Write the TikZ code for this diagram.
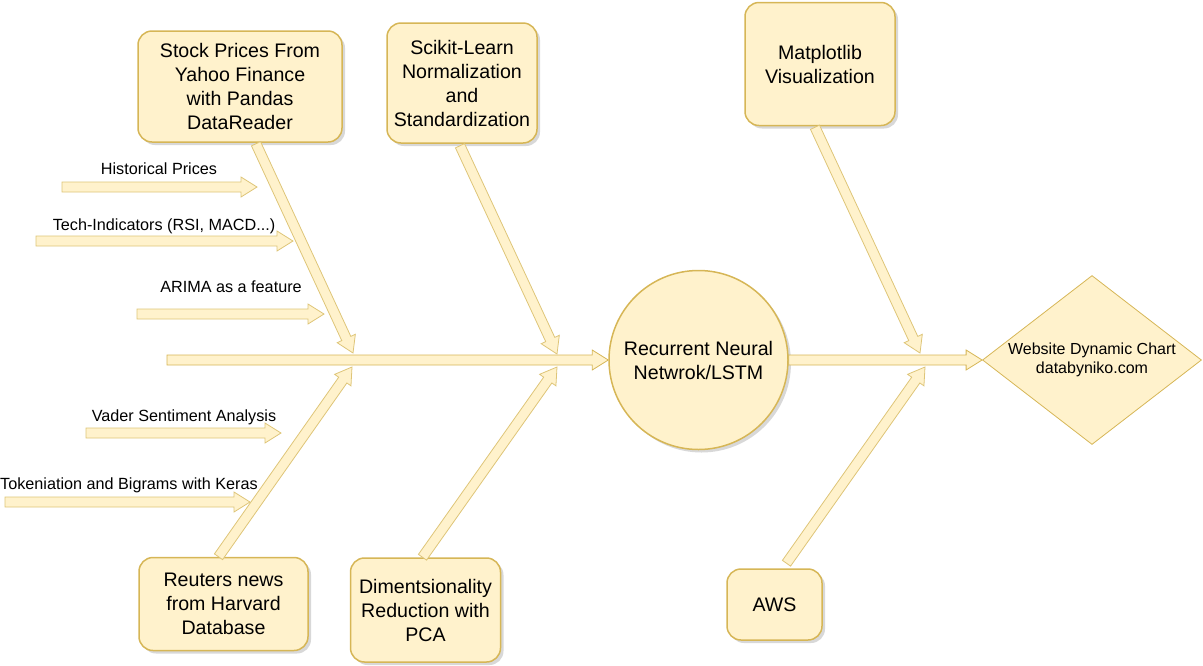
\documentclass[tikz,border=0pt]{standalone}
\usepackage{fontspec}
\setmainfont{Liberation Sans}
\usetikzlibrary{calc,shapes.geometric,shadows}

\definecolor{boxfill}{HTML}{FFF2CC}
\definecolor{boxline}{HTML}{D6B656}

% hollow draw.io style arrow from #2 to #3
\newcommand{\flexarrow}[3][]{%
  \coordinate (fa-s) at (#2);
  \coordinate (fa-e) at (#3);
  \coordinate (fa-h) at ($(fa-e)!16pt!(fa-s)$);
  \draw[flex,#1] ($(fa-s)!5pt!90:(fa-e)$) -- ($(fa-h)!5pt!90:(fa-e)$)
    -- ($(fa-h)!10pt!90:(fa-e)$) -- (fa-e) -- ($(fa-h)!10pt!-90:(fa-e)$)
    -- ($(fa-h)!5pt!-90:(fa-e)$) -- ($(fa-s)!5pt!-90:(fa-e)$) -- cycle;
}

\begin{document}
\begin{tikzpicture}[x=1pt,y=-1pt]
				\tikzstyle{every node}=[font=\fontsize{19.6}{24}\selectfont, text=black]
				\tikzstyle{box}=[draw=boxline, fill=boxfill, line width=1.5pt,
				rounded corners=14pt, align=center, inner sep=0pt,
				drop shadow={shadow xshift=3pt, shadow yshift=-3pt, fill=black!30}]
				\tikzstyle{lbl}=[font=\fontsize{16.2}{19}\selectfont, inner sep=0pt]
				\tikzstyle{flex}=[draw=boxline!80, fill=boxfill, line width=0.8pt, line join=miter]
				\useasboundingbox (0,0) rectangle (1203,665);

				% cause boxes
				\node[box, minimum width=204pt, minimum height=111pt] (stock) at (240,86.5)
				{Stock Prices From\\Yahoo Finance\\with Pandas\\DataReader};
				\node[box, minimum width=150pt, minimum height=120pt] (scikit) at (462,83)
				{Scikit-Learn\\Normalization\\and\\Standardization};
				\node[box, minimum width=150pt, minimum height=123pt] (matplot) at (820,64)
				{Matplotlib\\Visualization};
				\node[box, minimum width=169pt, minimum height=93pt] (reuters) at (223.5,604)
				{Reuters news\\from Harvard\\Database};
				\node[box, minimum width=150pt, minimum height=104pt] (pca) at (425.5,610)
				{Dimentsionality\\Reduction with\\PCA};
				\node[box, minimum width=95pt, minimum height=71pt] (aws) at (774.5,604.5) {AWS};

				% model and result
				\node[box, circle, rounded corners=0pt, minimum size=179pt] (rnn) at (698.5,360)
				{Recurrent Neural\\Netwrok/LSTM};
				\node[diamond, aspect=1.3, draw=boxline, fill=boxfill, line width=0.8pt, inner sep=0pt,
				minimum width=219pt, minimum height=169pt, align=center,
				font=\fontsize{16}{19}\selectfont] (web) at (1092,360)
				{Website Dynamic Chart\\databyniko.com};

				% spine
				\coordinate (tail) at (167,360);
				\flexarrow[draw=boxline]{tail}{rnn.west}
				\flexarrow[draw=boxline]{rnn.east}{web.west}

				% bones
				\coordinate (j1) at (353,353);
				\coordinate (j2) at (557,354);
				\coordinate (j3) at (920,353);
				\coordinate (j4) at (352,367);
				\coordinate (j5) at (557,367);
				\coordinate (j6) at (925,367);
				\flexarrow{$(stock.south)+(16,1)$}{j1}
				\flexarrow{$(scikit.south)+(-2,2)$}{j2}
				\flexarrow{$(matplot.south)+(-5,1)$}{j3}
				\flexarrow{$(reuters.north)+(-5,0)$}{j4}
				\flexarrow{$(pca.north)+(-3,0)$}{j5}
				\flexarrow{$(aws.north)+(12,-5)$}{j6}

				% feature arrows
				\coordinate (hist-s) at (62,187);   \coordinate (hist-e) at (257,187);
				\coordinate (tech-s) at (36,241);   \coordinate (tech-e) at (293,241);
				\coordinate (arima-s) at (137,314); \coordinate (arima-e) at (324,314);
				\coordinate (vader-s) at (86,433);  \coordinate (vader-e) at (281,433);
				\coordinate (token-s) at (5,502);   \coordinate (token-e) at (250,502);
				\flexarrow{hist-s}{hist-e}
				\flexarrow{tech-s}{tech-e}
				\flexarrow{arima-s}{arima-e}
				\flexarrow{vader-s}{vader-e}
				\flexarrow{token-s}{token-e}
				\node[lbl] (hist) at (159,169) {Historical Prices};
				\node[lbl] (tech) at (164,226) {Tech-Indicators (RSI, MACD...)};
				\node[lbl] (arima) at (231,287) {ARIMA as a feature};
				\node[lbl] (vader) at (184,417) {Vader Sentiment Analysis};
				\node[lbl] (token) at (129,485) {Tokeniation and Bigrams with Keras};
\end{tikzpicture}
\end{document}
